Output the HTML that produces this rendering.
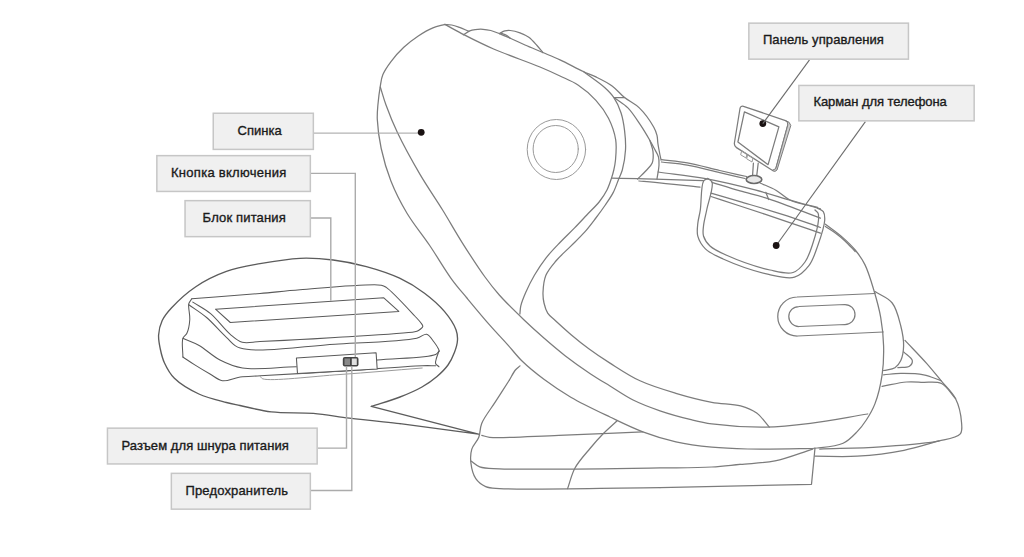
<!DOCTYPE html>
<html><head><meta charset="utf-8">
<style>
html,body{margin:0;padding:0;background:#fff;width:1024px;height:557px;overflow:hidden}
svg{position:absolute;left:0;top:0}
.k{fill:none;stroke:#7c7c7c;stroke-width:1.25;stroke-linecap:round;stroke-linejoin:round}
.kd{fill:none;stroke:#5c5c5c;stroke-width:1.35;stroke-linecap:round;stroke-linejoin:round}
.kb{fill:none;stroke:#5a5a5a;stroke-width:1.05;stroke-linecap:round;stroke-linejoin:round}
.kl{fill:none;stroke:#9a9a9a;stroke-width:1;stroke-linecap:round;stroke-linejoin:round}
.ld{fill:none;stroke:#ababab;stroke-width:1.4}
.ll{fill:none;stroke:#6c6c6c;stroke-width:1.1}
.lt{fill:none;stroke:#a0a0a0;stroke-width:1}
.bx{fill:#f0f0f0;stroke:#c6c6c6;stroke-width:1.5}
.tx{font-family:"Liberation Sans",sans-serif;font-size:13px;fill:#1a1a1a;stroke:#1a1a1a;stroke-width:0.35}
.dot{fill:#1a1212}
</style></head><body>
<svg width="1024" height="557" viewBox="0 0 1024 557">
<g>
<path class="k" d="M445.00,24.40C440.97,25.57 437.02,26.19 432.90,27.90C428.15,29.87 423.04,32.87 418.30,36.00C413.33,39.29 408.33,43.08 403.80,47.30C399.14,51.65 394.43,56.93 390.80,61.80C387.58,66.11 384.55,70.47 382.80,74.80C381.27,78.57 381.04,81.83 380.30,86.10C379.35,91.58 378.40,99.12 377.90,105.00C377.47,110.12 377.04,113.78 377.30,119.40C377.67,127.42 379.07,138.63 381.20,148.50C383.48,159.10 386.70,170.29 390.90,180.90C395.24,191.86 400.72,202.66 407.00,213.20C413.57,224.22 422.23,234.48 429.70,245.50C437.34,256.77 445.35,270.60 452.30,280.10C457.49,287.20 461.45,291.43 466.90,298.00C473.69,306.19 482.70,317.08 490.00,325.40C496.30,332.58 502.37,338.83 508.00,345.10C513.07,350.74 516.81,355.97 522.30,361.30C528.56,367.39 536.14,373.51 543.90,379.30C552.22,385.51 560.80,391.37 570.80,397.20C582.46,403.99 597.45,411.00 610.00,417.00C621.36,422.43 631.70,427.64 642.80,431.80C653.68,435.88 664.55,439.25 675.90,441.80C687.53,444.42 699.80,446.00 711.80,447.20C723.74,448.39 734.61,448.72 747.70,449.00C763.49,449.34 787.27,448.87 800.00,448.60C807.32,448.45 810.99,448.68 817.30,448.00C825.07,447.16 836.12,446.55 843.10,443.30C848.93,440.58 853.20,435.72 857.20,431.60C860.79,427.91 863.48,424.34 866.30,420.00C869.47,415.13 872.55,410.01 875.00,403.60C878.09,395.50 880.67,384.46 882.10,374.80C883.51,365.29 883.83,355.66 883.60,346.10C883.37,336.52 882.35,326.80 880.70,317.40C879.07,308.10 876.47,298.90 873.80,290.00C871.19,281.31 868.44,271.72 864.90,264.60C862.04,258.86 858.92,254.54 855.20,250.00C851.41,245.36 847.04,241.25 842.30,237.10C837.18,232.62 831.03,228.50 825.40,224.20"/>
<path class="k" d="M825.40,226.50C828.93,228.83 832.68,231.03 836.00,233.50C839.19,235.87 841.98,238.20 845.00,241.00C848.38,244.13 851.80,248.00 855.20,251.50"/>
<path class="k" d="M380.30,87.00C382.20,93.00 383.61,98.43 386.00,105.00C388.99,113.21 392.57,122.35 397.30,132.30C403.31,144.96 412.20,161.09 420.00,174.40C427.33,186.90 435.42,198.38 442.60,210.00C449.38,220.99 455.13,231.42 462.00,242.30C469.22,253.74 478.05,267.44 485.00,277.00C490.16,284.11 493.68,288.67 499.30,295.00C506.26,302.83 516.20,312.44 524.10,320.00C530.98,326.59 537.10,332.08 543.90,338.00C550.86,344.05 557.84,350.06 565.40,355.90C573.36,362.04 582.67,368.60 590.60,373.90C597.41,378.45 603.24,381.84 610.00,386.00C617.35,390.52 624.93,395.92 633.10,400.00C641.56,404.23 650.70,407.61 660.00,410.80C669.65,414.11 680.76,417.12 690.00,419.40C697.81,421.32 702.86,422.72 711.80,423.90C725.72,425.74 748.59,427.30 765.70,427.10C781.28,426.92 794.54,425.34 810.30,423.40C828.27,421.19 848.57,417.13 867.70,414.00"/>
<path class="k" d="M445.00,24.40C451.43,27.90 457.15,31.24 464.30,34.90C473.00,39.36 482.61,44.23 493.60,49.00C507.20,54.90 527.79,61.89 540.00,67.00C548.10,70.39 553.54,72.93 560.00,76.00C566.19,78.94 572.23,81.18 578.00,85.00C584.24,89.14 590.75,94.65 595.90,100.30C600.86,105.75 605.21,111.69 608.50,118.20C611.85,124.84 614.57,132.63 615.70,139.80C616.76,146.56 616.00,154.45 615.50,160.00C615.15,163.93 614.51,166.86 613.80,170.00C613.15,172.86 612.47,175.18 611.50,178.10C610.33,181.64 609.01,185.92 607.10,189.70C605.07,193.73 602.57,197.57 599.50,201.50C595.97,206.01 590.99,210.55 586.80,215.00C582.70,219.35 578.87,223.51 574.60,227.90C570.03,232.60 564.93,237.33 560.20,242.30C555.36,247.39 550.23,252.56 545.90,258.10C541.64,263.56 537.81,269.45 534.40,275.30C531.10,280.96 528.07,287.15 525.70,292.60C523.68,297.26 521.73,301.96 520.80,305.90C520.10,308.89 520.20,311.30 519.90,314.00"/>
<path class="k" d="M583.30,71.50C590.50,76.90 599.42,82.72 604.90,87.70C608.75,91.21 611.32,93.72 613.90,97.60C616.79,101.94 619.23,107.41 621.00,112.80C622.85,118.44 623.85,124.67 624.60,130.80C625.37,137.07 625.86,143.55 625.50,150.00C625.13,156.62 623.76,164.71 622.30,170.00C621.29,173.66 620.02,175.70 618.70,179.00C617.08,183.02 615.51,188.10 613.30,192.40C611.06,196.77 608.17,200.77 605.30,205.00C602.26,209.47 598.90,214.02 595.50,218.50C592.01,223.09 588.62,227.69 584.60,232.20C580.28,237.06 575.08,241.80 570.30,246.60C565.51,251.40 560.08,256.02 555.90,261.00C552.03,265.61 548.05,270.04 545.90,275.30C543.74,280.57 543.18,287.55 543.00,292.60C542.86,296.50 543.23,299.61 544.00,303.00C544.78,306.44 545.85,310.22 547.70,313.10C549.47,315.85 551.85,317.32 554.70,320.00C558.93,323.97 565.21,329.69 570.80,334.40C576.56,339.26 582.46,344.04 588.80,348.70C595.49,353.62 602.24,358.18 610.00,363.10C619.05,368.84 629.29,375.83 640.00,380.80C651.19,385.99 663.85,389.70 675.90,393.30C687.79,396.85 700.43,400.17 711.80,402.30C721.87,404.18 732.53,403.64 740.60,405.90C746.89,407.66 751.97,409.66 756.70,413.10C761.58,416.66 765.10,422.43 769.30,427.10"/>
<path class="k" d="M444.70,24.60C447.03,24.73 449.33,24.57 451.70,25.00C454.26,25.46 456.80,26.43 459.50,27.40C462.51,28.49 465.77,30.00 468.90,31.30"/>
<path class="k" d="M463.40,34.80C465.50,33.50 467.60,31.77 469.70,30.90C471.53,30.14 473.19,29.87 475.20,29.60C477.56,29.28 480.41,29.15 483.00,29.30C485.61,29.45 488.17,29.83 490.80,30.50C493.63,31.22 496.38,32.41 499.40,33.60C502.84,34.96 506.41,36.57 510.30,38.30C514.84,40.31 519.85,42.74 525.00,45.00C530.63,47.47 536.92,50.00 542.80,52.50C548.59,54.96 553.87,57.06 560.00,59.90C567.22,63.25 576.68,68.44 583.30,71.50C588.10,73.72 591.49,74.74 595.90,76.90C601.02,79.41 607.24,82.36 612.10,85.90C616.77,89.30 620.13,93.97 624.60,97.60C629.18,101.32 634.74,103.48 639.30,107.90C644.59,113.03 650.88,122.06 653.80,127.30C655.55,130.44 656.32,132.65 657.00,135.40C657.66,138.06 657.47,140.57 657.90,143.50C658.41,147.01 659.39,151.96 660.00,155.00C660.41,157.01 660.73,158.33 661.10,160.00"/>
<path class="k" d="M499.40,33.60C501.20,32.70 502.94,31.41 504.80,30.90C506.58,30.41 508.22,30.33 510.30,30.50C513.09,30.72 516.91,31.66 520.00,32.80C523.08,33.93 526.06,35.31 528.80,37.30C531.76,39.46 534.56,42.82 537.00,45.50C539.16,47.87 540.87,50.17 542.80,52.50"/>
<path class="k" d="M501.00,33.20C502.80,33.87 504.81,34.30 506.40,35.20C507.88,36.03 509.00,37.27 510.30,38.30"/>
<path class="k" d="M615.00,98.20C619.30,101.43 623.87,103.82 627.90,107.90C632.61,112.67 637.08,119.98 640.90,125.70C644.26,130.73 647.42,136.18 649.80,140.30C651.50,143.25 652.60,145.32 654.00,148.00C655.50,150.87 657.69,154.01 658.50,157.00C659.22,159.67 659.12,161.97 659.00,165.00C658.84,169.03 657.67,174.33 657.00,179.00"/>
<path class="k" d="M649.80,140.30C650.87,144.07 652.61,147.80 653.00,151.60C653.38,155.33 653.49,159.62 652.20,162.90C650.97,166.04 648.06,168.36 645.70,171.00C643.22,173.77 640.30,176.40 637.60,179.10"/>
<path class="k" d="M613.9,97.6 L624.6,97.6"/>
<ellipse class="kl" cx="556.4" cy="149.5" rx="29.2" ry="30"/>
<ellipse class="kl" cx="555.7" cy="149" rx="22.6" ry="23.5"/>
<path class="k" d="M661.50,159.70C670.10,160.77 678.26,161.28 687.30,162.90C697.53,164.73 709.40,168.14 719.70,170.50C729.08,172.65 737.63,174.50 746.60,176.50"/>
<path class="k" d="M661.50,162.00C670.10,163.03 678.26,163.51 687.30,165.10C697.53,166.89 709.57,170.25 719.70,172.60C728.66,174.68 736.57,176.53 745.00,178.50"/>
<path class="k" d="M760.10,183.00C765.37,185.40 770.88,187.34 775.90,190.20C780.95,193.07 784.46,197.50 790.30,200.20C797.70,203.62 808.43,205.00 817.50,207.40"/>
<path class="k" d="M658.20,172.00C674.00,174.20 689.70,175.68 705.60,178.60C721.96,181.60 739.97,185.99 755.00,189.90C767.81,193.23 779.00,196.94 790.30,200.20C800.73,203.21 810.37,205.93 820.40,208.80"/>
<path class="k" d="M611.70,178.20C620.30,178.37 629.73,178.54 637.50,178.70C643.90,178.84 647.71,178.90 655.00,179.10C667.13,179.44 687.33,180.17 703.50,180.70"/>
<path class="k" d="M712.00,182.30C721.33,185.17 730.59,188.16 740.00,190.90C749.49,193.66 757.83,195.27 768.70,198.80C783.51,203.61 803.17,211.73 820.40,218.20"/>
<path class="k" d="M639.00,181.00C644.33,181.43 648.32,181.67 655.00,182.30C666.21,183.37 685.00,185.57 700.00,187.20"/>
<path class="k" d="M711.00,193.10C720.67,195.93 729.39,198.44 740.00,201.60C752.95,205.45 769.30,210.13 783.10,214.60C796.03,218.78 807.97,223.20 820.40,227.50"/>
<path class="k" d="M711.00,196.50C720.67,199.67 729.38,202.50 740.00,206.00C752.95,210.27 769.27,215.61 783.10,220.30C796.00,224.67 807.97,228.90 820.40,233.20"/>
<path class="k" d="M765.8,192.3 L768.7,199.5"/>
<path class="k" d="M707.80,178.40C706.37,179.37 704.64,179.41 703.50,181.30C700.81,185.75 701.45,202.23 700.30,210.00C699.51,215.36 698.21,219.05 697.80,223.50C697.41,227.78 696.67,232.12 697.80,236.20C699.02,240.61 701.72,245.29 705.40,248.90C709.72,253.13 715.63,255.64 723.10,259.00C734.58,264.16 755.51,271.49 768.70,274.40C778.38,276.53 787.48,279.24 794.50,277.20C800.42,275.48 805.08,270.67 808.90,265.70C813.13,260.19 815.42,252.31 818.00,245.00C820.75,237.23 824.38,226.44 824.70,220.30C824.89,216.72 824.68,213.77 823.30,211.70C822.08,209.87 819.43,209.30 817.50,208.10"/>
<path class="k" d="M707.80,178.40C709.23,179.70 711.37,180.10 712.10,182.30C713.71,187.15 708.27,202.03 706.70,210.00C705.50,216.06 703.97,221.27 703.50,226.00C703.13,229.70 702.55,232.80 703.50,236.00C704.54,239.49 706.88,243.08 710.00,246.00C713.87,249.63 719.17,251.95 726.00,255.00C736.87,259.86 757.56,267.24 770.00,270.00C778.78,271.95 786.89,274.43 793.00,272.50C798.07,270.90 801.77,266.47 805.00,262.00C808.67,256.92 810.79,249.73 813.00,243.00C815.36,235.79 818.05,225.48 818.50,220.00C818.74,217.02 818.80,214.74 818.00,213.00C817.38,211.64 816.00,211.00 815.00,210.00"/>
<path class="k" d="M743.5,106.3 L785.5,120.6 Q788.6,121.8 787.8,125 L775.8,168.6 Q774.8,171.6 771.8,170 L736.5,147.6 Q734,146 734.4,143 L740,108.5 Q740.6,105.6 743.5,106.3Z"/>
<path class="k" d="M744.4,111.9 L778.9,126.9 L768.1,164.7 L737.9,142Z"/>
<path d="M785.5,120.6 Q790,121.5 790.8,125.5 L777,170 Q775.5,172.5 772,170.5 L775.8,168.6 L787.8,125 Q788.2,122 785.5,120.6Z" style="fill:#cfcfcf;stroke:#7c7c7c;stroke-width:1"/>
<path class="k" d="M753.4,163.2 L752.6,175.1"/>
<path class="k" d="M758.2,163.2 L756.8,175.1"/>
<ellipse cx="754" cy="179.5" rx="7.8" ry="4" style="fill:#e8e8e8;stroke:#6a6a6a;stroke-width:1.6"/>
<path class="kl" d="M742,151 l5,3 l-1,4 l-5,-3z M748,155 l5,3 l-1,4 l-5,-3z"/>
<circle class="dot" cx="762.8" cy="123.6" r="3.4"/>
<path class="k" d="M875,293.5 L797,297 A19.5,19.5 0 0 0 797.5,336 L883,332"/>
<path class="k" d="M798.8,306.5 L845,304.5 A10,10 0 0 1 845,324.5 L798.8,326.5 A10,10 0 0 1 798.8,306.5Z"/>
<path class="k" d="M875.00,291.60C880.73,295.40 887.95,297.66 892.20,303.00C896.83,308.83 898.90,318.50 900.80,326.00C902.53,332.80 903.76,339.88 903.60,346.00C903.46,351.23 902.58,356.67 900.80,360.50C899.39,363.53 897.61,366.04 895.00,367.70C892.06,369.57 887.40,369.57 883.60,370.50"/>
<path class="k" d="M903.60,351.90C906.50,354.77 911.86,357.77 912.30,360.50C912.62,362.47 911.17,364.95 909.40,366.20C907.02,367.88 901.73,367.20 897.90,367.70"/>
<path class="k" d="M905.00,340.40C912.20,348.07 920.22,356.20 926.60,363.40C931.98,369.47 936.21,374.77 941.00,380.60C945.88,386.53 952.19,391.85 955.60,398.70C959.08,405.69 961.03,415.68 961.50,422.20C961.83,426.74 962.69,430.93 960.30,433.90C957.02,437.99 948.12,438.99 939.20,440.90C924.68,444.00 900.34,445.43 880.60,446.80C860.52,448.19 840.00,448.33 819.70,449.10"/>
<path class="k" d="M883.60,374.80C889.33,374.33 894.65,373.46 900.80,373.40C907.89,373.33 916.68,373.43 923.70,374.80C929.96,376.02 935.23,378.67 941.00,380.60"/>
<path class="k" d="M882.10,386.30C890.23,384.87 899.16,382.57 906.50,382.00C912.45,381.53 917.18,382.07 922.80,382.30C928.82,382.55 936.13,380.95 941.50,383.50C947.15,386.18 950.90,393.63 955.60,398.70"/>
<path class="k" d="M939.20,440.90C927.47,444.03 916.66,447.82 904.00,450.30C889.60,453.12 872.43,455.24 857.20,456.20C842.80,457.10 829.07,456.20 815.00,456.20"/>
<path class="k" d="M815.0,448.0 L811.5,484.3 L660.0,487.6"/>
<path class="k" d="M740.00,464.40C751.67,463.23 763.24,463.30 775.00,460.90C787.46,458.35 800.13,453.03 812.70,449.10"/>
<path class="k" d="M509.40,380.00C504.77,387.23 500.12,394.46 495.50,401.70C490.89,408.93 484.41,416.74 481.70,423.40C479.69,428.35 480.48,432.99 478.80,437.30C477.15,441.54 473.12,444.84 471.80,449.10C470.48,453.37 470.34,458.20 470.90,462.90C471.51,468.04 473.03,474.64 475.80,478.70C478.23,482.26 481.87,484.94 485.70,486.60C489.72,488.34 492.36,488.11 499.50,488.60C523.73,490.27 606.50,487.93 660.00,487.60"/>
<path class="k" d="M481.70,435.30C484.33,435.97 485.62,436.86 489.60,437.30C501.20,438.58 534.54,436.15 558.70,435.30C585.36,434.36 614.77,432.97 642.80,431.80"/>
<path class="k" d="M470.90,461.00C473.83,462.97 475.97,465.57 479.70,466.90C484.81,468.73 489.71,468.36 499.50,468.80C527.30,470.05 621.24,468.35 660.00,467.90C682.02,467.65 697.15,467.80 711.80,467.00C722.63,466.41 730.60,465.27 740.00,464.40"/>
<path class="k" d="M616.90,421.00C612.23,425.33 607.37,429.44 602.90,434.00C598.40,438.60 594.37,443.22 590.00,448.50C585.08,454.44 578.77,461.10 575.00,468.00C571.44,474.51 570.07,481.73 567.60,488.60"/>
<path class="k" d="M520.00,365.90C518.47,367.27 516.90,368.19 515.40,370.00C513.34,372.49 511.40,376.67 509.40,380.00"/>
<path class="kd" d="M371.30,406.40C380.87,403.27 391.16,400.45 400.00,397.00C407.91,393.92 415.52,390.70 422.00,387.00C427.64,383.78 432.55,380.32 437.00,376.50C441.15,372.94 445.05,369.13 448.00,365.00C450.76,361.13 452.81,356.85 454.40,352.60C455.94,348.51 457.31,344.01 457.50,340.00C457.67,336.41 457.39,333.46 456.00,329.70C453.99,324.28 449.25,317.19 444.40,311.40C438.99,304.94 431.80,298.65 424.50,293.20C416.92,287.54 408.74,282.49 399.60,278.20C389.55,273.48 377.57,269.65 366.40,266.60C355.44,263.61 344.32,261.38 333.20,260.00C322.18,258.63 311.56,257.82 300.00,258.30C287.26,258.83 272.70,261.39 260.00,263.70C248.26,265.83 237.12,267.55 226.40,271.40C215.72,275.23 205.07,280.49 195.80,286.70C186.78,292.75 177.34,301.54 171.40,308.00C167.28,312.47 164.34,315.95 162.20,320.50C160.10,324.96 158.90,330.18 158.60,335.00C158.31,339.68 159.33,344.37 160.30,349.00C161.28,353.71 162.37,358.38 164.50,363.00C166.88,368.16 169.70,373.62 174.40,378.30C180.34,384.21 190.21,389.96 198.90,394.00C207.55,398.02 218.80,400.49 226.40,402.50C231.69,403.90 234.53,404.34 240.00,405.50C248.28,407.26 260.03,410.56 271.30,411.90C284.24,413.44 299.94,412.28 313.40,413.40C325.89,414.44 336.37,416.54 349.40,418.10C364.83,419.95 383.13,421.77 400.00,423.60"/>
<path class="kd" d="M400.0,423.6 L478.5,434.1 L371.3,406.4"/>
<path class="kb" d="M191.80,298.80C214.53,297.03 240.29,295.18 260.00,293.50C275.11,292.21 284.31,290.97 300.00,289.80C322.33,288.14 370.61,283.27 381.30,285.20C384.07,285.70 384.14,285.92 386.30,287.40C392.17,291.42 408.81,309.63 414.80,316.00C417.68,319.07 419.62,321.01 421.00,323.00C421.88,324.28 422.98,325.28 422.80,326.40C422.57,327.79 419.98,329.59 418.50,330.50C417.30,331.24 416.88,331.37 414.80,331.80C405.42,333.75 356.20,336.11 335.00,337.50C320.97,338.42 312.06,338.95 300.00,339.60C287.11,340.29 270.67,341.04 260.00,341.50C252.88,341.81 247.34,343.64 242.20,342.20C237.60,340.91 234.55,337.86 230.30,334.30C224.29,329.26 217.34,319.18 210.60,313.60C204.80,308.79 198.73,305.93 192.80,302.10"/>
<path class="kb" d="M215.5,309.2 L383.8,297.8 L398.8,311.4 L230.3,322.5 Z"/>
<path class="kb" d="M188.80,304.70C194.73,308.97 200.71,312.49 206.60,317.50C213.26,323.16 220.24,331.84 226.40,337.30C231.27,341.62 232.90,345.75 240.20,348.10C257.18,353.57 304.58,345.94 335.00,344.20C363.29,342.58 402.90,341.46 416.80,338.20C421.79,337.03 423.74,333.58 426.60,334.20C429.48,334.82 431.94,339.37 434.00,342.00C435.81,344.31 437.69,347.31 438.50,349.00C438.92,349.87 438.97,350.40 439.20,351.10"/>
<path class="kb" d="M191.80,298.80C190.80,300.43 189.35,301.49 188.80,303.70C187.89,307.37 190.17,314.44 189.80,319.50C189.46,324.28 188.47,329.97 186.90,333.30C185.84,335.54 183.74,335.90 182.90,338.30C181.46,342.40 182.90,350.77 182.90,357.00"/>
<path class="kb" d="M182.90,338.30C188.17,340.60 193.20,342.13 198.70,345.20C205.45,348.97 212.53,356.17 220.00,360.00C227.16,363.68 233.22,366.51 242.50,368.00C256.45,370.25 278.43,367.20 296.40,366.80"/>
<path class="kb" d="M377.20,360.10C396.67,358.23 428.19,357.99 435.60,354.50C437.72,353.50 437.87,352.23 439.00,351.10"/>
<path class="kb" d="M439.00,351.10C438.17,353.40 437.07,355.80 436.50,358.00C436.00,359.91 435.10,362.00 435.60,363.50C436.06,364.88 437.87,365.70 439.00,366.80"/>
<path class="kb" d="M182.90,357.00C186.87,359.63 190.56,362.22 194.80,364.90C199.52,367.88 205.16,371.25 210.00,374.00C214.32,376.46 217.76,380.02 222.40,380.70C227.67,381.47 234.05,377.82 240.20,377.00C246.69,376.14 251.54,376.32 260.40,375.80C277.42,374.80 309.17,373.10 335.00,371.50C362.94,369.77 405.82,366.24 422.20,365.70C428.61,365.49 431.13,365.70 435.60,365.70"/>
<path class="kl" d="M260.40,376.50C261.17,377.27 261.17,378.21 262.70,378.80C270.19,381.66 313.85,376.26 340.00,374.50C366.99,372.68 394.80,370.17 422.20,368.00"/>
<path class="kb" d="M296.4,357.9 L376.1,352.7 L377.2,369.1 L297.5,373.6 Z" style="fill:#fff"/>
<rect x="342.8" y="357" width="15.7" height="9.4" rx="2" fill="#444"/>
<rect x="344.5" y="358.5" width="5.5" height="6.5" fill="#888"/>
<rect x="351.8" y="358.5" width="5" height="6.5" fill="#e0e0e0"/>
</g>
<path class="lt" d="M314.0,133.1 L421.2,133.1"/>
<circle class="dot" cx="421.2" cy="132.3" r="3.4"/>
<path class="ld" d="M311.0,173.4 L355.3,173.4 L355.3,357.0"/>
<path class="ld" d="M311.0,218.0 L330.8,218.0 L330.8,300.8"/>
<path class="ld" d="M318.0,448.1 L346.5,448.1 L346.5,366.4"/>
<path class="ld" d="M311.0,490.5 L351.8,490.5 L351.8,366.4"/>
<path class="ll" d="M809.5,59.9 L762.8,123.6"/>
<path class="ll" d="M865.4,121.6 L776.2,245.5"/>
<circle class="dot" cx="776.2" cy="245.5" r="3.4"/>
<rect class="bx" x="213.25" y="113.25" width="100.10000000000002" height="36.150000000000006"/>
<text class="tx" x="237.6" y="135.1" textLength="44.2" lengthAdjust="spacing">Спинка</text>
<rect class="bx" x="156.85" y="155.65" width="153.50000000000003" height="35.79999999999998"/>
<text class="tx" x="171" y="177" textLength="115.3" lengthAdjust="spacing">Кнопка включения</text>
<rect class="bx" x="185.05" y="200.65" width="125.30000000000001" height="36.0"/>
<text class="tx" x="202.6" y="222" textLength="83.2" lengthAdjust="spacing">Блок питания</text>
<rect class="bx" x="107.45" y="428.15" width="209.7" height="35.80000000000001"/>
<text class="tx" x="121.4" y="449.6" textLength="167.4" lengthAdjust="spacing">Разъем для шнура питания</text>
<rect class="bx" x="171.35" y="473.35" width="139.00000000000003" height="35.799999999999955"/>
<text class="tx" x="185.5" y="494.6" textLength="102.5" lengthAdjust="spacing">Предохранитель</text>
<rect class="bx" x="748.85" y="23.15" width="159.60000000000002" height="36.0"/>
<text class="tx" x="762.9" y="44.2" textLength="121" lengthAdjust="spacing">Панель управления</text>
<rect class="bx" x="798.85" y="85.45" width="175.29999999999995" height="35.39999999999999"/>
<text class="tx" x="813.4" y="106.2" textLength="133.4" lengthAdjust="spacing">Карман для телефона</text>
</svg>
</body></html>
